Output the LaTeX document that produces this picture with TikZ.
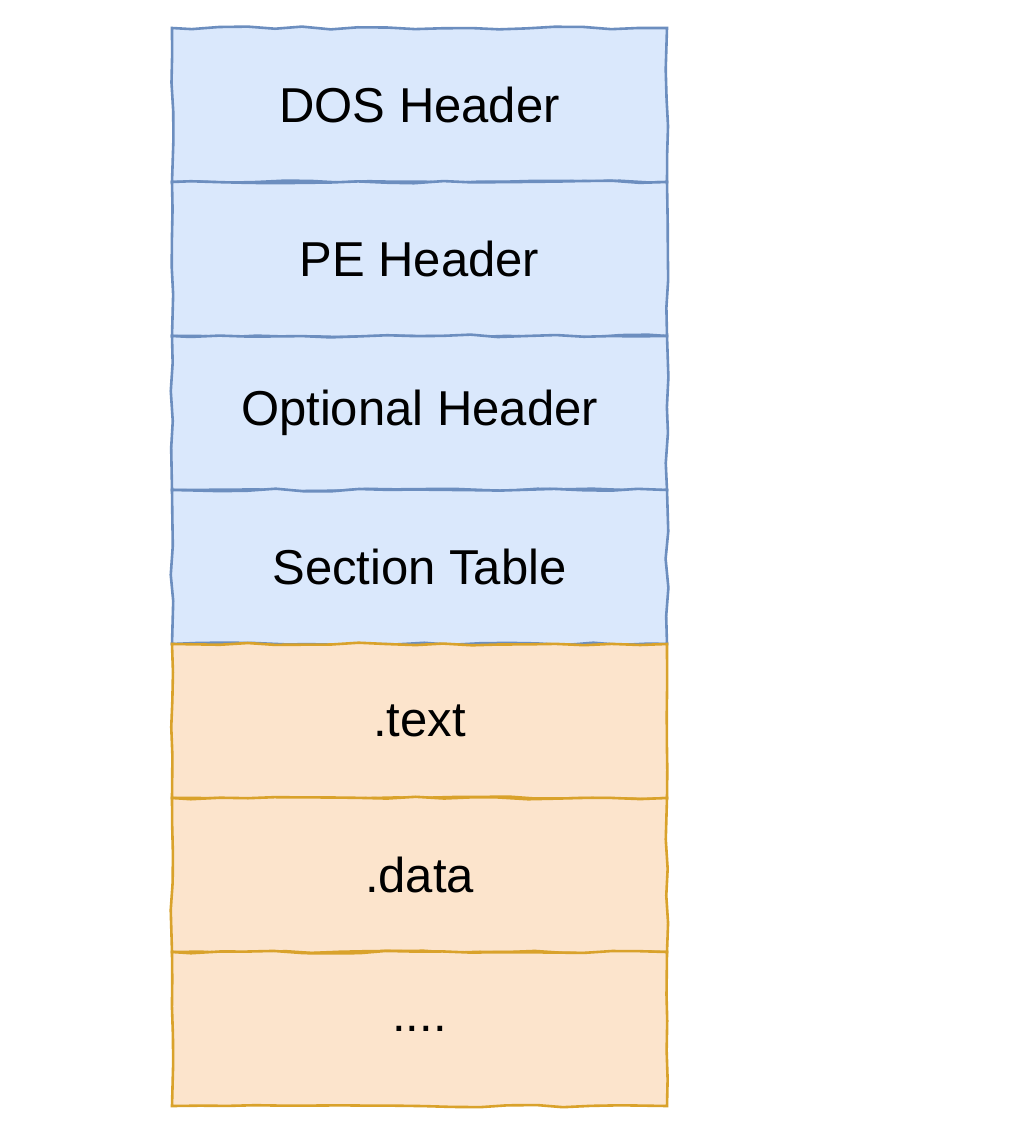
\documentclass[tikz,border=0pt]{standalone}
\usepackage{fontspec}
\setmainfont{Liberation Sans}
\usetikzlibrary{positioning,decorations.pathmorphing}
\definecolor{bluefill}{HTML}{DAE8FC}
\definecolor{bluedraw}{HTML}{6C8EBF}
\definecolor{orangefill}{HTML}{FCE4CC}
\definecolor{orangedraw}{HTML}{D9A22B}
\tikzset{
  cell/.style={rectangle, minimum width=247.5pt, minimum height=77pt, inner sep=0pt, outer sep=0pt,
    line width=1.3pt, font=\fontsize{24.5}{29}\selectfont,
    decoration={random steps, segment length=14pt, amplitude=0.7pt}, decorate},
  hdr/.style={cell, fill=bluefill, draw=bluedraw},
  sec/.style={cell, fill=orangefill, draw=orangedraw},
}
\begin{document}
\pgfmathsetseed{7}
\begin{tikzpicture}
\useasboundingbox[fill=white] (0,0) rectangle (516pt,-567pt);
\node[hdr] (dos) at (209.75pt,-52.5pt) {DOS Header};
\node[hdr, below=0pt of dos] (pe) {PE Header};
\node[hdr, below=0pt of pe] (opt) {Optional Header};
\node[hdr, below=0pt of opt] (sect) {Section Table};
\node[sec, below=0pt of sect] (text) {.text};
\node[sec, below=0pt of text] (data) {.data};
\node[sec, below=0pt of data] (more) {....};
\end{tikzpicture}
\end{document}
